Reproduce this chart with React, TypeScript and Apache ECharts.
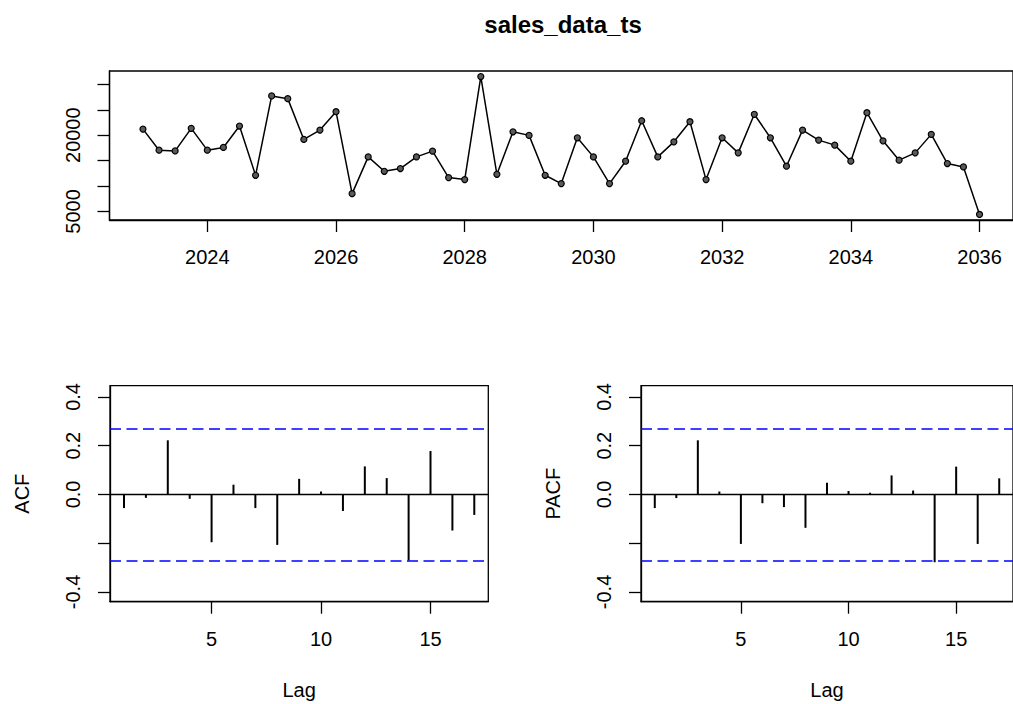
import React, { useEffect, useRef } from "react";
import * as echarts from "echarts";

const TITLE = "sales_data_ts";
const START_YEAR = 2023;
const FREQUENCY = 4;

const sales = [
  21200, 17050, 16900, 21340, 17050, 17590, 21800, 12110, 27720, 27190, 19170, 21000, 24620,
  8500, 15730, 12900, 13440, 15730, 16860, 11660, 11260, 31540, 12310, 20670, 19960, 12110,
  10470, 19490, 15730, 10470, 14880, 22840, 15730, 18690,
  22650, 11260, 19490, 16520, 24110, 19490, 13890, 21000, 19030, 18040, 14880, 24420, 18890,
  15080, 16520, 20160, 14420, 13750, 4400,
];

const yearTicks = [2024, 2026, 2028, 2030, 2032, 2034, 2036];
const salesTicks = [5000, 10000, 15000, 20000, 25000, 30000];
const salesLabels = [5000, 20000];

const lags = [1, 2, 3, 4, 5, 6, 7, 8, 9, 10, 11, 12, 13, 14, 15, 16, 17];
const acfValues = [
  -0.056, -0.014, 0.222, -0.018, -0.196, 0.04, -0.056, -0.207, 0.064, 0.012, -0.068, 0.115,
  0.067, -0.271, 0.178, -0.148, -0.084,
];
const pacfValues = [
  -0.056, -0.015, 0.222, 0.012, -0.203, -0.036, -0.052, -0.137, 0.048, 0.014, 0.007, 0.078,
  0.016, -0.278, 0.114, -0.203, 0.066,
];
const corrTicks = [-0.4, -0.2, 0, 0.2, 0.4];
const corrLabels = [-0.4, 0, 0.2, 0.4];
const lagTicks = [5, 10, 15];
const CONF_LIMIT = 0.269;

const FONT = '"Liberation Sans", Arial, Helvetica, sans-serif';
const BLACK = "#000";

function axisBase(ticks: number[], labels: number[], fmt: (v: number) => string, rotate = 0) {
  return {
    type: "value" as const,
    splitLine: { show: false },
    axisLine: { show: true, onZero: false, lineStyle: { color: BLACK, width: 1.3 } },
    axisTick: { show: true, length: 12, customValues: ticks, lineStyle: { color: BLACK, width: 1.3 } },
    axisLabel: {
      customValues: labels,
      formatter: (v: number) => fmt(v),
      color: BLACK,
      fontSize: 20,
      fontFamily: FONT,
      margin: 27,
      rotate,
    },
    nameTextStyle: { color: BLACK, fontSize: 20, fontFamily: FONT },
  };
}

export default function App() {
  const ref = useRef<HTMLDivElement>(null);
  useEffect(() => {
    if (!ref.current) return;
    const chart = echarts.init(ref.current, undefined, { renderer: "svg" });
    const salesData = sales.map((v, i) => [START_YEAR + i / FREQUENCY, v]);
    const corrFmt = (v: number) => (Math.abs(v) < 1e-9 ? "0.0" : v.toFixed(1));
    const refLines = () => ({
      symbol: ["none", "none"],
      silent: true,
      label: { show: false },
      emphasis: { disabled: true },
      data: [
        { yAxis: 0, lineStyle: { type: "solid", color: BLACK, width: 1.3 } },
        { yAxis: CONF_LIMIT, lineStyle: { type: [11, 5.5], color: "#0000FF", width: 1.5 } },
        { yAxis: -CONF_LIMIT, lineStyle: { type: [11, 5.5], color: "#0000FF", width: 1.5 } },
      ],
    });
    const gridStyle = { show: true, borderColor: BLACK, borderWidth: 1.3, backgroundColor: "transparent" };
    chart.setOption({
      animation: false,
      backgroundColor: "#fff",
      graphic: [
        {
          type: "text",
          x: 563,
          y: 24,
          style: {
            text: TITLE,
            font: `bold 24px ${FONT}`,
            fill: BLACK,
            align: "center",
            verticalAlign: "middle",
          },
        },
      ],
      grid: [
        { left: 109.5, top: 71, width: 907.1, height: 149, ...gridStyle },
        { left: 110, top: 385.7, width: 378.3, height: 216, ...gridStyle },
        { left: 641, top: 385.7, width: 378.3, height: 216, ...gridStyle },
      ],
      xAxis: [
        { ...axisBase(yearTicks, yearTicks, (v) => String(v)), gridIndex: 0, min: 2022.48, max: 2036.52 },
        {
          ...axisBase(lagTicks, lagTicks, (v) => String(v)),
          gridIndex: 1,
          min: 0.36,
          max: 17.64,
          name: "Lag",
          nameLocation: "middle",
          nameGap: 78,
        },
        {
          ...axisBase(lagTicks, lagTicks, (v) => String(v)),
          gridIndex: 2,
          min: 0.36,
          max: 17.64,
          name: "Lag",
          nameLocation: "middle",
          nameGap: 78,
        },
      ],
      yAxis: [
        { ...axisBase(salesTicks, salesLabels, (v) => String(v), 90), gridIndex: 0, min: 3310, max: 32630 },
        {
          ...axisBase(corrTicks, corrLabels, corrFmt, 90),
          gridIndex: 1,
          min: -0.44,
          max: 0.446,
          name: "ACF",
          nameLocation: "middle",
          nameRotate: 90,
          nameGap: 78,
        },
        {
          ...axisBase(corrTicks, corrLabels, corrFmt, 90),
          gridIndex: 2,
          min: -0.44,
          max: 0.446,
          name: "PACF",
          nameLocation: "middle",
          nameRotate: 90,
          nameGap: 78,
        },
      ],
      series: [
        {
          type: "line",
          xAxisIndex: 0,
          yAxisIndex: 0,
          data: salesData,
          symbol: "circle",
          symbolSize: 6,
          itemStyle: { color: "#5a5a5a", borderColor: BLACK, borderWidth: 1.2 },
          lineStyle: { color: BLACK, width: 1.5 },
          silent: true,
        },
        {
          type: "bar",
          xAxisIndex: 1,
          yAxisIndex: 1,
          data: lags.map((l, i) => [l, acfValues[i]]),
          barWidth: 2,
          itemStyle: { color: BLACK },
          silent: true,
          markLine: refLines(),
        },
        {
          type: "bar",
          xAxisIndex: 2,
          yAxisIndex: 2,
          data: lags.map((l, i) => [l, pacfValues[i]]),
          barWidth: 2,
          itemStyle: { color: BLACK },
          silent: true,
          markLine: refLines(),
        },
      ],
    });
    return () => chart.dispose();
  }, []);
  return (
    <div
      ref={ref}
      style={{ position: "absolute", left: 0, top: 0, width: 1013, height: 704 }}
    />
  );
}
